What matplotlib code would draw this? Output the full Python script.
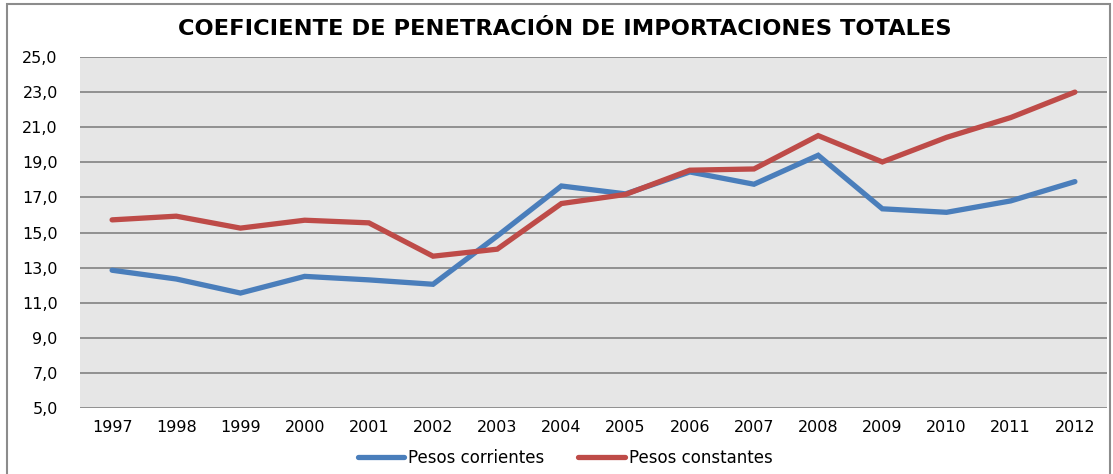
import matplotlib.pyplot as plt
from matplotlib.patches import Rectangle
from matplotlib.ticker import FuncFormatter

plt.rcParams['font.family'] = ['DejaVu Sans']

# Datos
anos = ['1997', '1998', '1999', '2000', '2001', '2002', '2003', '2004',
        '2005', '2006', '2007', '2008', '2009', '2010', '2011', '2012']
pesos_corrientes = [12.85, 12.35, 11.55, 12.5, 12.3, 12.05, 14.8, 17.65,
                    17.2, 18.45, 17.75, 19.4, 16.35, 16.15, 16.8, 17.9]
pesos_constantes = [15.72, 15.93, 15.25, 15.7, 15.55, 13.65, 14.05, 16.65,
                    17.17, 18.55, 18.62, 20.52, 19.02, 20.42, 21.55, 23.0]

azul = '#4A7EBB'
rojo = '#BE4B48'

fig = plt.figure(figsize=(11.13, 4.74), dpi=100)
W, H = 1113, 474

# Marco del grafico
fig.patches.append(Rectangle((7 / W, -0.1), 1103 / W, 1.1 - 4 / H,
                             transform=fig.transFigure, fill=False,
                             edgecolor='#8C8C8C', linewidth=1.5))

ax = fig.add_axes([80 / W, 1 - 408 / H, 1027 / W, 351 / H])
ax.set_facecolor('#E6E6E6')

x = range(len(anos))
ax.plot(x, pesos_corrientes, color=azul, linewidth=3.8, label='Pesos corrientes',
        solid_capstyle='round', solid_joinstyle='miter', zorder=3)
ax.plot(x, pesos_constantes, color=rojo, linewidth=3.8, label='Pesos constantes',
        solid_capstyle='round', solid_joinstyle='miter', zorder=3)

ax.set_xlim(-0.5, len(anos) - 0.5)
ax.set_ylim(5, 25)
ax.set_yticks(range(5, 26, 2))
ax.yaxis.set_major_formatter(FuncFormatter(lambda v, p: f'{v:.1f}'.replace('.', ',')))
ax.set_xticks(list(x))
ax.set_xticklabels(anos)
ax.grid(axis='y', color='#8A8A8A', linewidth=1.3)
ax.set_axisbelow(True)
for s in ax.spines.values():
    s.set_visible(False)
ax.tick_params(axis='both', length=0, labelsize=11.5, colors='black')
ax.tick_params(axis='y', pad=16)
ax.tick_params(axis='x', pad=9)

fig.text(565 / W, 1 - 29 / H, 'COEFICIENTE DE PENETRACIÓN DE IMPORTACIONES TOTALES',
         ha='center', va='center', fontsize=16.2, fontweight='bold')

fig.legend(loc='center', bbox_to_anchor=(565 / W, 1 - 458 / H), ncol=2,
           frameon=False, fontsize=12, handlelength=2.8, handletextpad=0.25,
           columnspacing=2.0)

fig.savefig('out.png', dpi=100)
